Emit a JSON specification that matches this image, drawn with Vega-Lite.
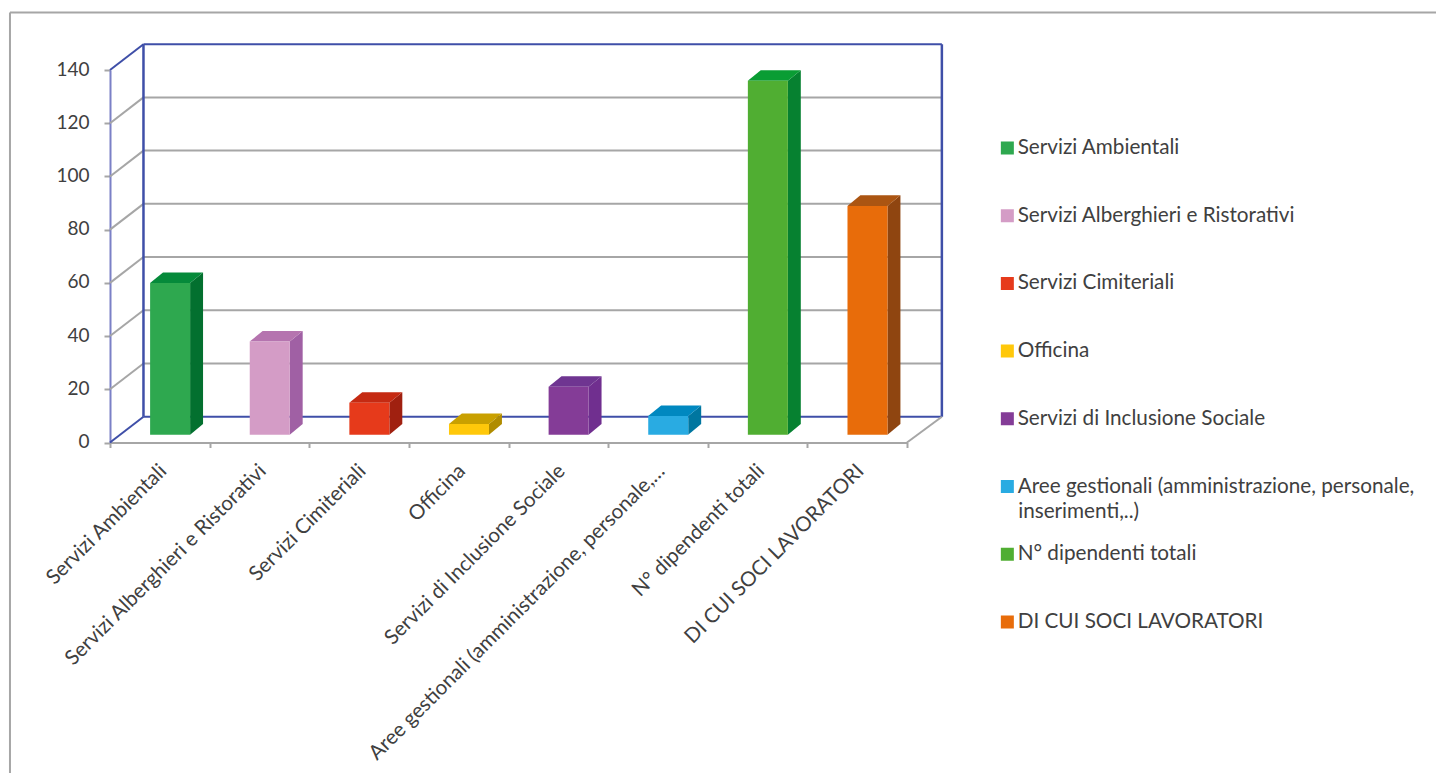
{
"$schema":"https://vega.github.io/schema/vega-lite/v6.json",
"width":797,"height":372.5,
"autosize":{"type":"none"},
"padding":{"left":110,"top":70,"right":529,"bottom":330.5},
"background":"white",
"config":{"view":{"stroke":null},"font":"Lato"},
"datasets":{
"barre":[
{"ordine":0,"categoria":"Servizi Ambientali","valore":57},
{"ordine":1,"categoria":"Servizi Alberghieri e Ristorativi","valore":35},
{"ordine":2,"categoria":"Servizi Cimiteriali","valore":12},
{"ordine":3,"categoria":"Officina","valore":4},
{"ordine":4,"categoria":"Servizi di Inclusione Sociale","valore":18},
{"ordine":5,"categoria":"Aree gestionali (amministrazione, personale, inserimenti,..)","valore":7},
{"ordine":6,"categoria":"N° dipendenti totali","valore":133},
{"ordine":7,"categoria":"DI CUI SOCI LAVORATORI","valore":86}
],
"griglia":[{"tick":20},{"tick":40},{"tick":60},{"tick":80},{"tick":100},{"tick":120}],
"bordi":[{"tick":0},{"tick":140}],
"uno":[{"tick":0}],
"riga":[{"testo":"inserimenti,..)"}]
},
"resolve":{"scale":{"x":"independent","color":"independent"},"axis":{"x":"independent"}},
"layer":[
{"data":{"name":"uno"},"mark":{"type":"rule","color":"#a6a6a6","strokeWidth":2},
 "encoding":{"x":{"datum":-1.004,"type":"quantitative","scale":{"domain":[0,8],"nice":false},"axis":null},"y":{"datum":161.6,"type":"quantitative","scale":{"domain":[0,140],"nice":false},"axis":{"values":[0,20,40,60,80,100,120,140],"title":null,"grid":false,"domainColor":"#7b80c6","domainWidth":2,"tickColor":"#a6a6a6","tickWidth":2,"tickSize":6,"labelFontSize":19,"labelColor":"#404040","labelPadding":15,"labelOffset":-1,"labelFont":"Lato"}},"y2":{"datum":-125}}},
{"data":{"name":"uno"},"mark":{"type":"rule","color":"#a6a6a6","strokeWidth":2},
 "encoding":{"x":{"datum":-1.004,"type":"quantitative","scale":{"domain":[0,8],"nice":false},"axis":null},"x2":{"datum":13.4},"y":{"datum":161.6,"type":"quantitative"}}},
{"data":{"name":"griglia"},"transform":[{"calculate":"datum.tick+9.7","as":"dietro"}],"mark":{"type":"rule","color":"#a6a6a6","strokeWidth":2},
 "encoding":{"x":{"datum":0,"type":"quantitative","scale":{"domain":[0,8],"nice":false},"axis":null},"x2":{"datum":0.336},"y":{"field":"tick","type":"quantitative"},"y2":{"field":"dietro"}}},
{"data":{"name":"griglia"},"transform":[{"calculate":"datum.tick+9.7","as":"dietro"}],"mark":{"type":"rule","color":"#a6a6a6","strokeWidth":2},
 "encoding":{"x":{"datum":0.336,"type":"quantitative","scale":{"domain":[0,8],"nice":false},"axis":null},"x2":{"datum":8.35},"y":{"field":"dietro","type":"quantitative"}}},
{"data":{"name":"bordi"},"transform":[{"calculate":"datum.tick+9.7","as":"dietro"}],"mark":{"type":"rule","color":"#3f4fa8","strokeWidth":2},
 "encoding":{"x":{"datum":0,"type":"quantitative","scale":{"domain":[0,8],"nice":false},"axis":null},"x2":{"datum":0.336},"y":{"field":"tick","type":"quantitative"},"y2":{"field":"dietro"}}},
{"data":{"name":"bordi"},"transform":[{"calculate":"datum.tick+9.7","as":"dietro"}],"mark":{"type":"rule","color":"#3f4fa8","strokeWidth":2},
 "encoding":{"x":{"datum":0.336,"type":"quantitative","scale":{"domain":[0,8],"nice":false},"axis":null},"x2":{"datum":8.35},"y":{"field":"dietro","type":"quantitative"}}},
{"data":{"name":"uno"},"mark":{"type":"rule","color":"#3f4fa8","strokeWidth":2.5},
 "encoding":{"x":{"datum":0.336,"type":"quantitative","scale":{"domain":[0,8],"nice":false},"axis":null},"y":{"datum":9.7,"type":"quantitative"},"y2":{"datum":149.7}}},
{"data":{"name":"uno"},"mark":{"type":"rule","color":"#3f4fa8","strokeWidth":2.5},
 "encoding":{"x":{"datum":8.35,"type":"quantitative","scale":{"domain":[0,8],"nice":false},"axis":null},"y":{"datum":9.7,"type":"quantitative"},"y2":{"datum":149.7}}},
{"data":{"name":"uno"},"mark":{"type":"rule","color":"#a6a6a6","strokeWidth":2},
 "encoding":{"x":{"datum":8,"type":"quantitative","scale":{"domain":[0,8],"nice":false},"axis":null},"x2":{"datum":8.35},"y":{"datum":0,"type":"quantitative"},"y2":{"datum":9.7}}},
{"data":{"name":"riga"},"mark":{"type":"text","align":"left","baseline":"middle","fontSize":20.7,"color":"#404040","font":"Lato"},
 "encoding":{"x":{"datum":9.116,"type":"quantitative","scale":{"domain":[0,8],"nice":false},"axis":null},"y":{"datum":-26.1,"type":"quantitative"},"text":{"field":"testo","type":"nominal"}}},
{"data":{"name":"barre"},
 "transform":[{"calculate":"[0,1]","as":"t"},{"flatten":["t"]},
  {"calculate":"datum.ordine+0.804+datum.t*0.13","as":"xs"},
  {"calculate":"datum.valore+2.93+datum.t*4","as":"alto"},
  {"calculate":"2.93+datum.t*4","as":"basso"}],
 "mark":{"type":"area","orient":"vertical"},
 "encoding":{"x":{"field":"xs","type":"quantitative","scale":{"domain":[0,8],"nice":false},"axis":null},
  "y":{"field":"alto","type":"quantitative"},"y2":{"field":"basso"},
  "color":{"field":"categoria","type":"nominal","sort":null,"legend":null,"scale":{"range":["#03702f","#a060a4","#a02010","#b08c00","#702f8f","#0076a0","#068130","#8f4510"]}}}},
{"data":{"name":"barre"},
 "transform":[{"calculate":"[0,1,2,3]","as":"t"},{"flatten":["t"]},
  {"calculate":"datum.ordine+0.402+[0,0.13,0.402,0.532][datum.t]","as":"xs"},
  {"calculate":"datum.valore+2.93+[0,4,4,4][datum.t]","as":"alto"},
  {"calculate":"datum.valore+2.93+[0,0,0,4][datum.t]","as":"basso"}],
 "mark":{"type":"area","orient":"vertical"},
 "encoding":{"x":{"field":"xs","type":"quantitative","scale":{"domain":[0,8],"nice":false},"axis":null},
  "y":{"field":"alto","type":"quantitative"},"y2":{"field":"basso"},
  "color":{"field":"categoria","type":"nominal","sort":null,"legend":null,"scale":{"range":["#058a3a","#b574af","#c52a12","#c9a000","#6f3591","#0088c0","#0a9d34","#ab5512"]}}}},
{"data":{"name":"barre"},
 "mark":{"type":"bar","size":40,"xOffset":10.3,"yOffset":-7.8,"y2Offset":-7.8},
 "encoding":{
  "x":{"field":"categoria","type":"nominal","sort":null,"scale":{"paddingInner":0,"paddingOuter":0},
   "axis":{"orient":"bottom","title":null,"labelAngle":-45,"labelAlign":"right","labelBaseline":"top","labelFontSize":20.5,"labelColor":"#404040","labelPadding":13,"labelOffset":-4,"labelLimit":412,"labelOverlap":false,"domainColor":"#a6a6a6","domainWidth":2,"tickColor":"#a6a6a6","tickWidth":2,"tickSize":5,"tickBand":"extent"}},
  "y":{"field":"valore","type":"quantitative","stack":null},
  "y2":{"datum":0},
  "color":{"field":"categoria","type":"nominal","sort":null,
   "scale":{"range":["#2ea84f","#d49cc6","#e63a1b","#ffc80a","#843c97","#29abe2","#50ae32","#e86c0a"]},
   "legend":{"title":null,"orient":"none","legendX":887,"legendY":68,"padding":0,"symbolType":"square","symbolSize":169,"symbolStrokeWidth":0,"symbolOpacity":1,"labelFontSize":20.7,"labelColor":"#404040","labelOffset":0,"labelLimit":440,"clipHeight":20,"rowPadding":46.7,"labelBaseline":"alphabetic",
    "labelExpr":"indexof(datum.label,'Aree')==0 ? 'Aree gestionali (amministrazione, personale,' : datum.label",
    "encoding":{"labels":{"dy":{"value":6}}}}}}}
]
}
